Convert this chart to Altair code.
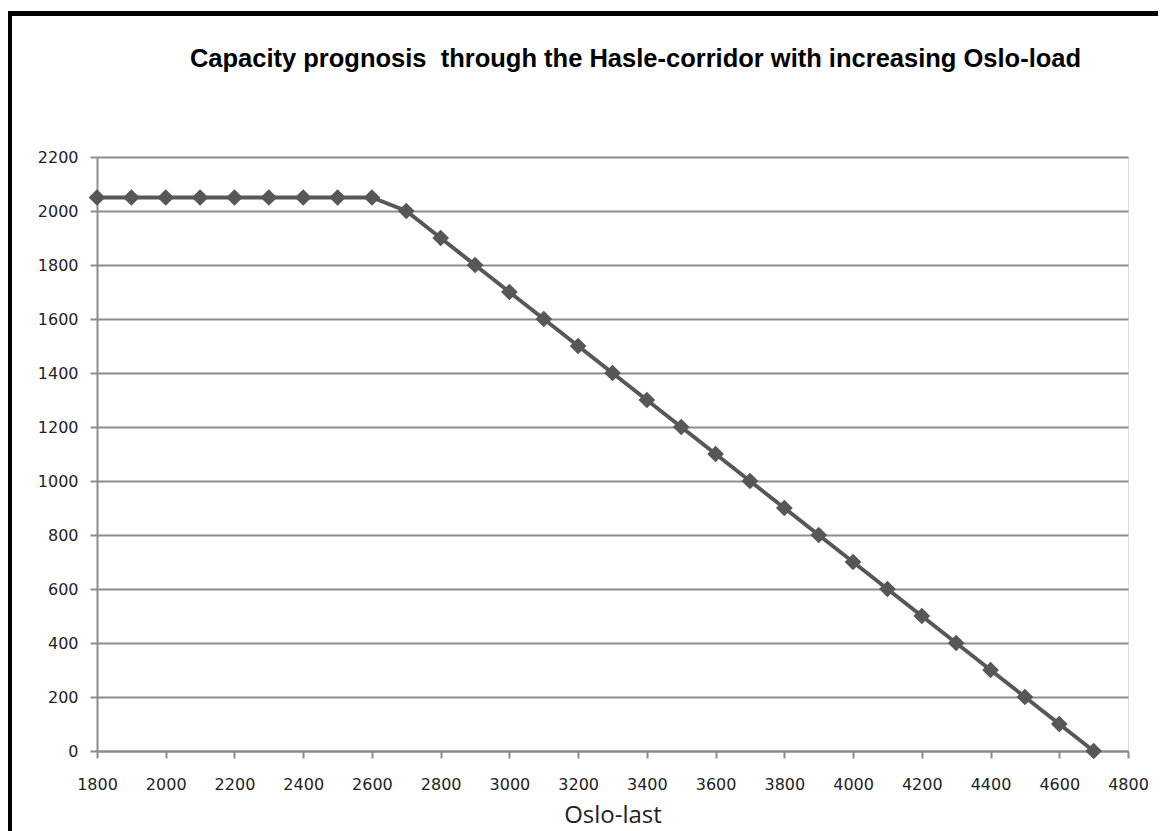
import altair as alt
import pandas as pd

oslo_load = [1800, 1900, 2000, 2100, 2200, 2300, 2400, 2500, 2600, 2700,
             2800, 2900, 3000, 3100, 3200, 3300, 3400, 3500, 3600, 3700,
             3800, 3900, 4000, 4100, 4200, 4300, 4400, 4500, 4600, 4700]
capacity = [2050, 2050, 2050, 2050, 2050, 2050, 2050, 2050, 2050, 2000,
            1900, 1800, 1700, 1600, 1500, 1400, 1300, 1200, 1100, 1000,
            900, 800, 700, 600, 500, 400, 300, 200, 100, 0]
x_ticks = [1800, 2000, 2200, 2400, 2600, 2800, 3000, 3200, 3400, 3600,
           3800, 4000, 4200, 4400, 4600, 4800]
y_ticks = [0, 200, 400, 600, 800, 1000, 1200, 1400, 1600, 1800, 2000, 2200]
title_text = "Capacity prognosis\u00a0 through the Hasle-corridor with increasing Oslo-load"

df = pd.DataFrame({"x": oslo_load, "y": capacity})

W, H = 1031, 594
PAD_L, PAD_T, PAD_R, PAD_B = 89, 149, 30, 80

x_enc = alt.X("x:Q",
              scale=alt.Scale(domain=[1800, 4800], nice=False, zero=False),
              axis=alt.Axis(values=x_ticks, title="Oslo-last", grid=False, format="d",
                            domainColor="#8c8c8c", domainWidth=2,
                            tickColor="#8c8c8c", tickWidth=2, tickSize=7,
                            labelFont="DejaVu Sans", labelFontSize=16,
                            labelColor="#222222", labelPadding=18,
                            labelFlush=False, labelOverlap=False,
                            titleFont="Open Sans", titleFontSize=24,
                            titleFontWeight="normal", titleColor="#222222",
                            titlePadding=11))
y_enc = alt.Y("y:Q",
              scale=alt.Scale(domain=[0, 2200], nice=False),
              axis=alt.Axis(values=y_ticks, title=None, grid=True, format="d",
                            gridColor="#8c8c8c", gridWidth=2,
                            domainColor="#8c8c8c", domainWidth=2,
                            tickColor="#8c8c8c", tickWidth=2, tickSize=7,
                            labelFont="DejaVu Sans", labelFontSize=16,
                            labelColor="#222222", labelPadding=12,
                            labelFlush=False, labelOverlap=False))

line = alt.Chart(df).mark_line(color="#575757", strokeWidth=4).encode(x=x_enc, y=y_enc)
pts = alt.Chart(df).mark_point(shape="diamond", filled=True, size=280,
                               color="#575757", opacity=1).encode(x="x:Q", y="y:Q")

one = pd.DataFrame({"a": [0]})
frame = alt.Chart(one).mark_rect(
    fill=None, stroke="black", strokeWidth=5, fillOpacity=0
).encode(
    x=alt.value(-87.5), x2=alt.value(W + 200),
    y=alt.value(-143.5), y2=alt.value(H + 200)
)
title = alt.Chart(one).mark_text(
    font="Liberation Sans", fontSize=25.5, fontWeight="bold", color="black",
    align="center", baseline="alphabetic"
).encode(x=alt.value(W / 2 + 23), y=alt.value(-90), text=alt.value(title_text))

chart = alt.layer(frame, title, line, pts).properties(
    width=W, height=H,
    padding={"left": PAD_L, "top": PAD_T, "right": PAD_R, "bottom": PAD_B},
    autosize=alt.AutoSizeParams(type="none"),
).configure_view(stroke=None).configure(background="white")

chart.save("out.html", embed_options={"renderer": "svg", "actions": False})
